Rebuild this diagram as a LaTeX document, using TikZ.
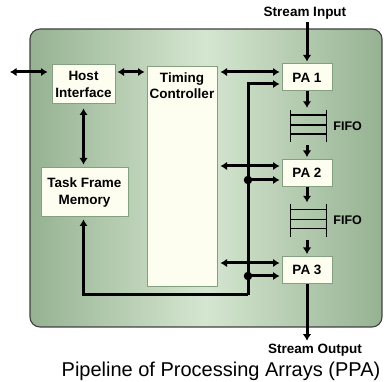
\documentclass[tikz,border=0pt]{standalone}
\usepackage{fontspec}
\setmainfont{Liberation Sans}
\usetikzlibrary{arrows.meta,positioning,calc}
\definecolor{PpaDark}{RGB}{150,178,146}
\definecolor{PpaLight}{RGB}{213,230,208}
\definecolor{PpaEdge}{RGB}{64,64,64}
\definecolor{PpaBoxEdge}{RGB}{132,160,128}
\definecolor{PpaCream}{RGB}{253,253,240}
\tikzset{
  ppa/frame/.style={
    draw=PpaEdge,
    line width=1.1pt,
    rounded corners=10pt,
    left color=PpaDark,
    right color=PpaDark,
    middle color=PpaLight
  },
  ppa/box/.style={
    draw=PpaBoxEdge,
    line width=1pt,
    fill=PpaCream,
    align=center,
    inner sep=0pt,
    font=\fontsize{13.5}{16.5}\selectfont\bfseries
  },
  ppa/lbl/.style={font=\fontsize{13.5}{16.5}\selectfont\bfseries, align=center, inner sep=0pt},
  ppa/fifolbl/.style={font=\fontsize{12.5}{14}\selectfont\bfseries, inner sep=0pt},
  ppa/title/.style={font=\fontsize{20}{22}\selectfont, inner sep=0pt},
  ppa/fifo/.style={minimum width=35pt, minimum height=32pt, inner sep=0pt},
  ppa/arrow/.style={-{Latex[length=6.5pt,width=8.5pt]}, line width=3pt, shorten >=2pt},
  ppa/dbl/.style={{Latex[length=6.5pt,width=8.5pt]}-{Latex[length=6.5pt,width=8.5pt]}, line width=3pt, shorten >=2pt, shorten <=2pt},
  ppa/dot/.style={circle, fill=black, inner sep=0pt, minimum size=8.5pt},
  ppa/fifoline/.style={line width=1.2pt}
}
\begin{document}
\begin{tikzpicture}[x=1pt,y=-1pt]
  \useasboundingbox (0,0) rectangle (384,382);
  \draw[ppa/frame] (30,29) rectangle (382,327);

  % blocks
  \node[ppa/box,minimum width=63pt,minimum height=39pt] (host) at (83.5,84.5) {Host\\Interface};
  \node[ppa/box,minimum width=70pt,minimum height=220pt,
        label={[ppa/lbl,anchor=north,yshift=-6pt]north:Timing\\Controller}] (tc) at (182,177) {};
  \node[ppa/box,minimum width=87pt,minimum height=49pt] (tfm) at (84.5,192.5) {Task Frame\\Memory};
  \node[ppa/box,minimum width=50pt,minimum height=27pt] (pa1) at (307,77.5) {PA 1};
  \node[ppa/box,minimum width=50pt,minimum height=27pt] (pa2) at (307,173) {PA 2};
  \node[ppa/box,minimum width=50pt,minimum height=27pt] (pa3) at (307,270) {PA 3};
  \node[ppa/fifo] (f1) at (308.5,126) {};
  \node[ppa/fifo] (f2) at (308.5,220.5) {};
  \node[ppa/fifolbl,right=7pt of f1] {FIFO};
  \node[ppa/fifolbl,right=7pt of f2] {FIFO};

  % fifo stacks
  \foreach \f in {f1,f2} {
    \draw[ppa/fifoline] (\f.north west) -- (\f.south west);
    \draw[ppa/fifoline] (\f.north east) -- (\f.south east);
    \foreach \t in {0.16,0.47,0.75}
      \draw[ppa/fifoline] ($(\f.north west)!\t!(\f.south west)$) -- ($(\f.north east)!\t!(\f.south east)$);
  }

  % outside texts
  \node[ppa/lbl] (sin) at (305,13) {Stream Input};
  \node[ppa/lbl] (sout) at (315,350) {Stream Output};
  \node[ppa/title] (title) at (221,371) {Pipeline of Processing Arrays (PPA)};
  \coordinate (ext) at (8,72);

  % host links
  \coordinate (hostio) at ([yshift=12.5pt]host.west);
  \draw[ppa/dbl,shorten >=4pt] (ext) -- (hostio);
  \draw[ppa/dbl] (hostio -| host.east) -- (hostio -| tc.west);
  \draw[ppa/dbl,shorten >=3pt,shorten <=4pt] (host.south) -- (host.south |- tfm.north);

  % timing controller to arrays
  \coordinate (pa1c) at ([yshift=5.5pt]pa1.west);
  \coordinate (pa2c) at ([yshift=7pt]pa2.west);
  \coordinate (pa3c) at ([yshift=7pt]pa3.west);
  \draw[ppa/dbl,shorten <=3pt] (pa1c -| tc.east) -- (pa1c);
  \draw[ppa/dbl,shorten <=3pt] (pa2c -| tc.east) -- (pa2c);
  \draw[ppa/dbl,shorten <=3pt] (pa3c -| tc.east) -- (pa3c);

  % frame bus
  \coordinate (pa1b) at ([yshift=-6.5pt]pa1.west);
  \coordinate (pa2b) at ([yshift=-7pt]pa2.west);
  \coordinate (pa3b) at ([yshift=-6pt]pa3.west);
  \coordinate (busc) at (248,295);
  \node[ppa/dot] (d2) at (busc |- pa2b) {};
  \node[ppa/dot] (d3) at (busc |- pa3b) {};
  \draw[ppa/arrow] (busc) -- (busc |- pa1b) -- (pa1b);
  \draw[ppa/arrow] (busc) -| (host.south |- tfm.south);
  \draw[ppa/arrow] (d2.center) -- (pa2b);
  \draw[ppa/arrow] (d3.center) -- (pa3b);

  % stream path
  \draw[ppa/arrow,shorten <=3pt] (pa1.north |- sin.south) -- (pa1.north);
  \draw[ppa/arrow] (pa1.south) -- (pa1.south |- f1.north);
  \draw[ppa/arrow,shorten <=3pt] (pa1.south |- f1.south) -- (pa2.north);
  \draw[ppa/arrow] (pa2.south) -- (pa2.south |- f2.north);
  \draw[ppa/arrow,shorten <=3pt] (pa2.south |- f2.south) -- (pa3.north);
  \draw[ppa/arrow,shorten >=3pt] (pa3.south) -- (pa3.south |- sout.north);
\end{tikzpicture}
\end{document}
